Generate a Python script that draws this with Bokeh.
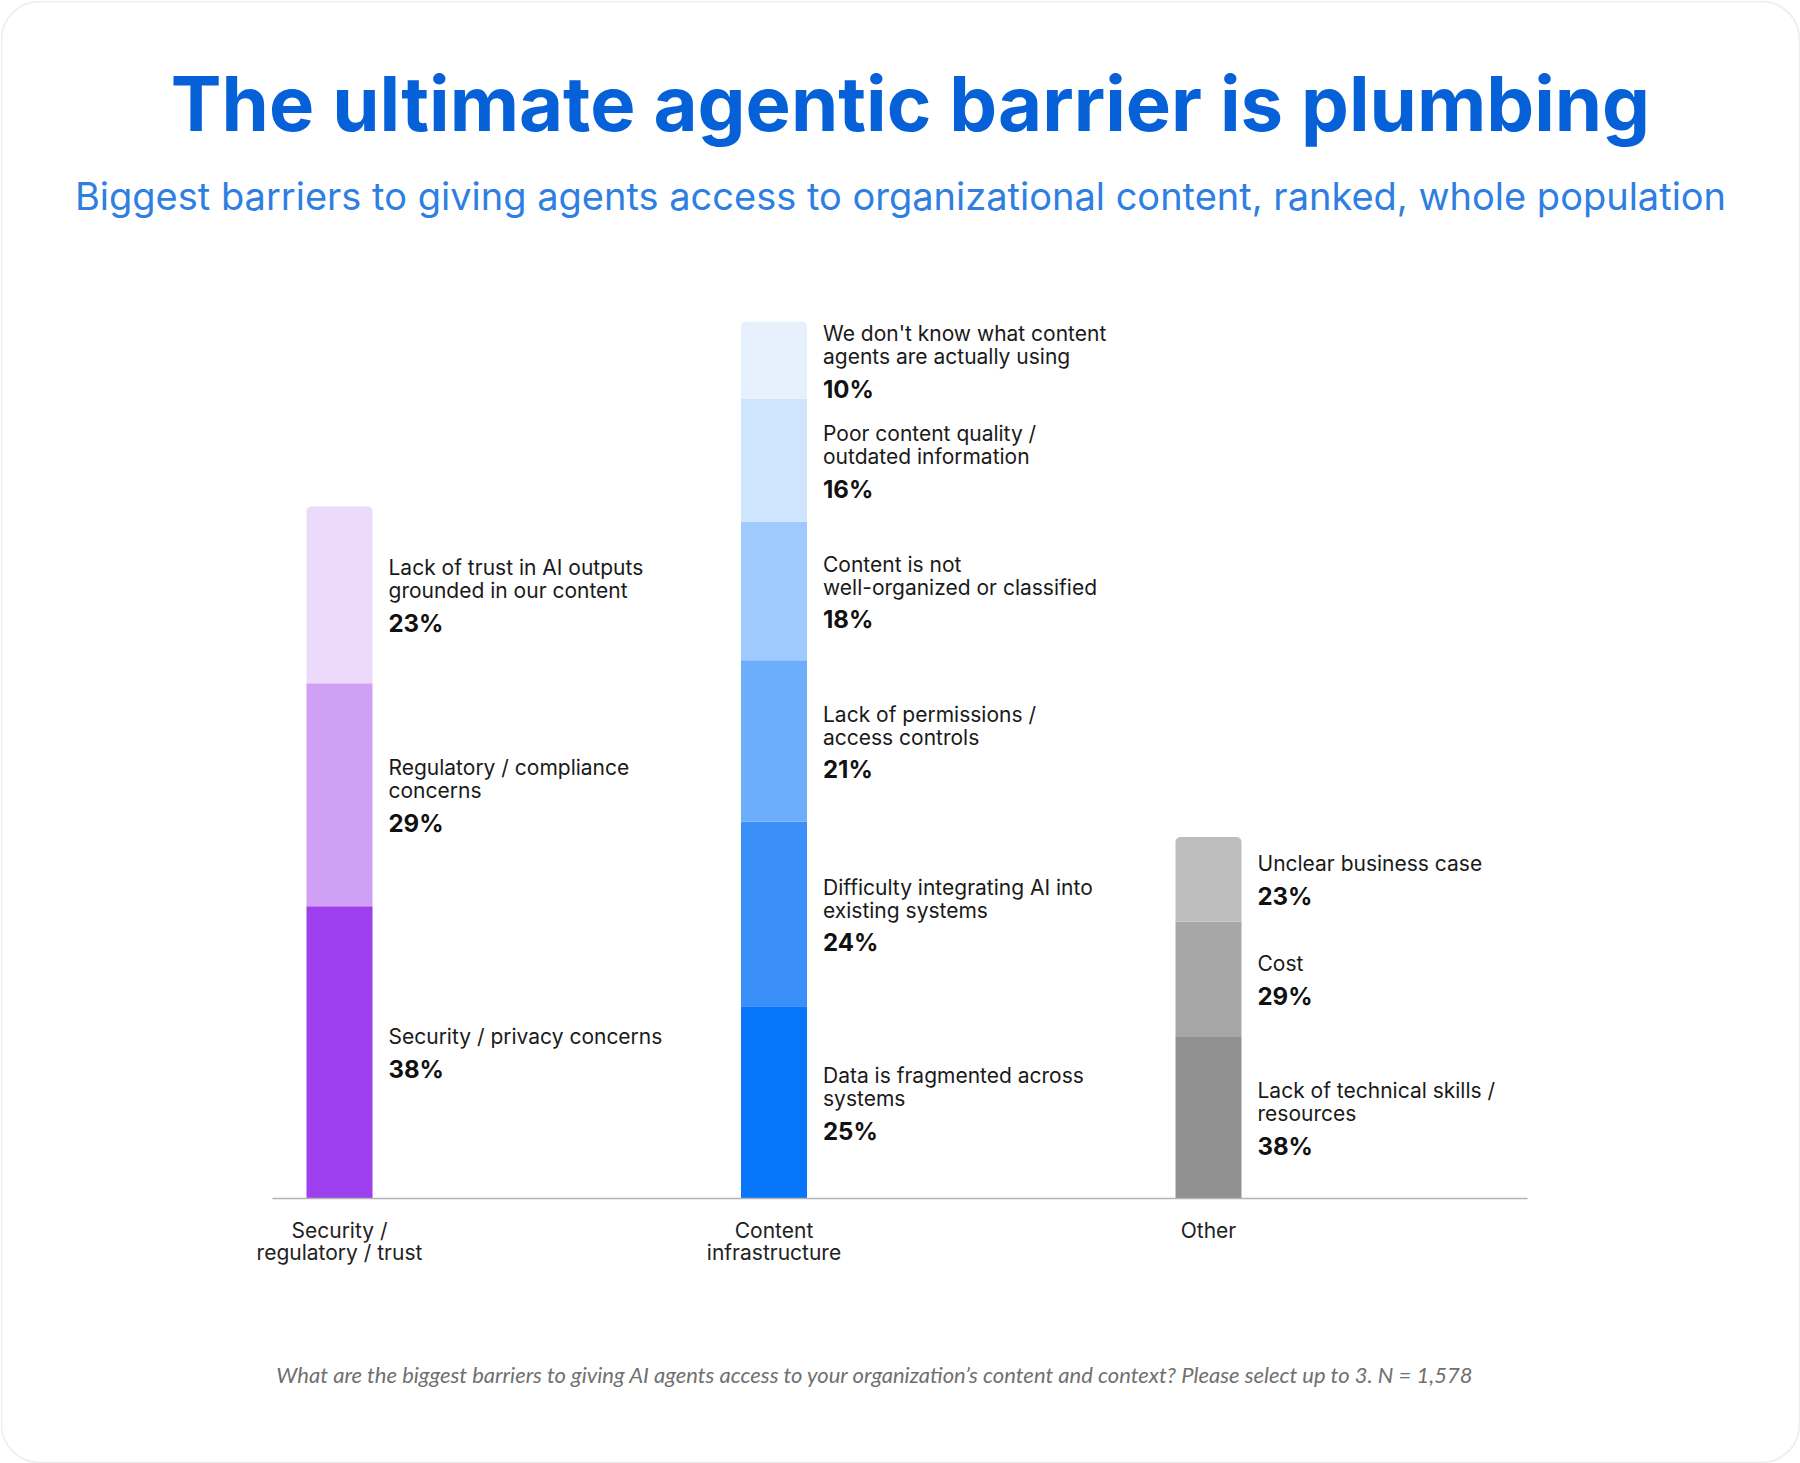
from bokeh.plotting import figure
from bokeh.models import Range1d, Label, BoxAnnotation, ColumnDataSource
from bokeh.core.properties import value
from bokeh.embed import file_html
from bokeh.resources import INLINE

# ---------------- data ----------------
categories = ["Security /\nregulatory / trust", "Content\ninfrastructure", "Other"]

# segments listed bottom -> top
security_labels = ["Security / privacy concerns",
                   "Regulatory / compliance\nconcerns",
                   "Lack of trust in AI outputs\ngrounded in our content"]
security_values = [38, 29, 23]
security_pct = ["38%", "29%", "23%"]

content_labels = ["Data is fragmented across\nsystems",
                  "Difficulty integrating AI into\nexisting systems",
                  "Lack of permissions /\naccess controls",
                  "Content is not\nwell-organized or classified",
                  "Poor content quality /\noutdated information",
                  "We don't know what content\nagents are actually using"]
content_values = [25, 24, 21, 18, 16, 10]
content_pct = ["25%", "24%", "21%", "18%", "16%", "10%"]

other_labels = ["Lack of technical skills /\nresources", "Cost", "Unclear business case"]
other_values = [21, 15, 11]          # bar heights as drawn
other_pct = ["38%", "29%", "23%"]    # labels as printed

title = "The ultimate agentic barrier is plumbing"
subtitle = "Biggest barriers to giving agents access to organizational content, ranked, whole population"
footnote = ("What are the biggest barriers to giving AI agents access to your organization\u2019s "
            "content and context? Please select up to 3. N = 1,578")

# ---------------- styles ----------------
security_colors = ["#9D3FEC", "#D0A0F4", "#ECDAFB"]
content_colors = ["#0876FA", "#3A8FF9", "#6CAEFB", "#9FCAFD", "#CFE4FD", "#E7F1FD"]
other_colors = ["#919191", "#A7A7A7", "#BDBDBD"]

W, H = 1800, 1463
PX_PER_UNIT_X = 434.5
PX_PER_PCT = 7.69
X0_PX = 339
Y0_PX_FROM_BOTTOM = H - 1198
FONT = "Inter"
SHIFT = 0.37   # baseline correction (fraction of font size)

LAB_FS = 21
PCT_FS = 24
CAT_FS = 21

p = figure(width=W, height=H, output_backend="svg", toolbar_location=None,
           x_axis_location=None, y_axis_location=None, min_border=0,
           x_range=Range1d(-X0_PX / PX_PER_UNIT_X, (W - X0_PX) / PX_PER_UNIT_X),
           y_range=Range1d(-Y0_PX_FROM_BOTTOM / PX_PER_PCT, (H - Y0_PX_FROM_BOTTOM) / PX_PER_PCT))
p.grid.visible = False
p.outline_line_color = None
p.background_fill_color = "white"
p.border_fill_color = "white"

groups = [(security_labels, security_values, security_pct, security_colors),
          (content_labels, content_values, content_pct, content_colors),
          (other_labels, other_values, other_pct, other_colors)]

bar_w = 66 / PX_PER_UNIT_X
seg = dict(x=[], bottom=[], top=[], color=[])
topseg = dict(x=[], bottom=[], top=[], color=[])
lab = dict(x=[], y=[], yo=[], text=[])
pct = dict(x=[], y=[], yo=[], text=[])

CAP = 14.7
LH = 23.0
PCT_GAP = 34.0
for gi, (labels, vals, pcts, cols) in enumerate(groups):
    b = 0.0
    for k, (l, v, pt, c) in enumerate(zip(labels, vals, pcts, cols)):
        d = topseg if k == len(vals) - 1 else seg
        d["x"].append(gi); d["bottom"].append(b); d["top"].append(b + v); d["color"].append(c)
        yc = b + v / 2.0
        lines = l.split("\n")
        n = len(lines)
        block = CAP + LH * (n - 1) + PCT_GAP
        cap_top = -block / 2.0 + 2.0
        for j, ln in enumerate(lines):
            lab["x"].append(gi); lab["y"].append(yc)
            lab["yo"].append(cap_top + CAP + LH * j - SHIFT * LAB_FS); lab["text"].append(ln)
        pct["x"].append(gi); pct["y"].append(yc)
        pct["yo"].append(cap_top + CAP + LH * (n - 1) + PCT_GAP - SHIFT * PCT_FS); pct["text"].append(pt)
        b += v

p.vbar(x="x", bottom="bottom", top="top", width=bar_w, fill_color="color", line_color=None,
       source=ColumnDataSource(seg))
p.vbar(x="x", bottom="bottom", top="top", width=bar_w, fill_color="color", line_color=None,
       border_radius=(5, 5, 0, 0), source=ColumnDataSource(topseg))

p.text(x="x", y="y", y_offset="yo", text="text", x_offset=49, source=ColumnDataSource(lab),
       text_font=value(FONT), text_font_size=f"{LAB_FS}px", text_color="#1A1A1A",
       text_baseline="alphabetic", text_align="left")
p.text(x="x", y="y", y_offset="yo", text="text", x_offset=49, source=ColumnDataSource(pct),
       text_font=value(FONT), text_font_size=f"{PCT_FS}px", text_font_style="bold", text_color="#111111",
       text_baseline="alphabetic", text_align="left")

# baseline (axis line)
p.segment(x0=[-67 / PX_PER_UNIT_X], x1=[(1527 - X0_PX) / PX_PER_UNIT_X], y0=[0], y1=[0],
          line_color="#B3B3B3", line_width=1.5)

# category labels
cat = dict(x=[], y=[], yo=[], text=[])
for gi, c in enumerate(categories):
    for j, ln in enumerate(c.split("\n")):
        cat["x"].append(gi); cat["y"].append(0)
        cat["yo"].append(39.5 + 22.7 * j - SHIFT * CAT_FS); cat["text"].append(ln)
p.text(x="x", y="y", y_offset="yo", text="text", source=ColumnDataSource(cat),
       text_font=value(FONT), text_font_size=f"{CAT_FS}px", text_color="#222222",
       text_baseline="alphabetic", text_align="center")

# titles
TFS, SFS, FFS = 76, 38, 22
p.add_layout(Label(x=910, y=H - 131 + SHIFT * TFS, x_units="screen", y_units="screen", text=title,
                   text_font=FONT, text_font_size=f"{TFS}px", text_font_style="bold",
                   text_color="#0661D8", text_align="center", text_baseline="alphabetic"))
p.add_layout(Label(x=900, y=H - 210 + SHIFT * SFS, x_units="screen", y_units="screen", text=subtitle,
                   text_font=FONT, text_font_size=f"{SFS}px", text_color="#2F7FE2",
                   text_align="center", text_baseline="alphabetic"))
p.add_layout(Label(x=875, y=H - 1381.7 + SHIFT * FFS, x_units="screen", y_units="screen", text=footnote,
                   text_font="Lato", text_font_size=f"{FFS}px", text_font_style="italic",
                   text_color="#707070", text_align="center", text_baseline="alphabetic"))

# card border
p.add_layout(BoxAnnotation(left=1, right=W - 1, bottom=1, top=H - 1,
                           left_units="screen", right_units="screen",
                           bottom_units="screen", top_units="screen",
                           fill_alpha=0, line_color="#C4C4C4", line_width=1.5,
                           border_radius=38))

open("out.html", "w").write(file_html(p, INLINE))
